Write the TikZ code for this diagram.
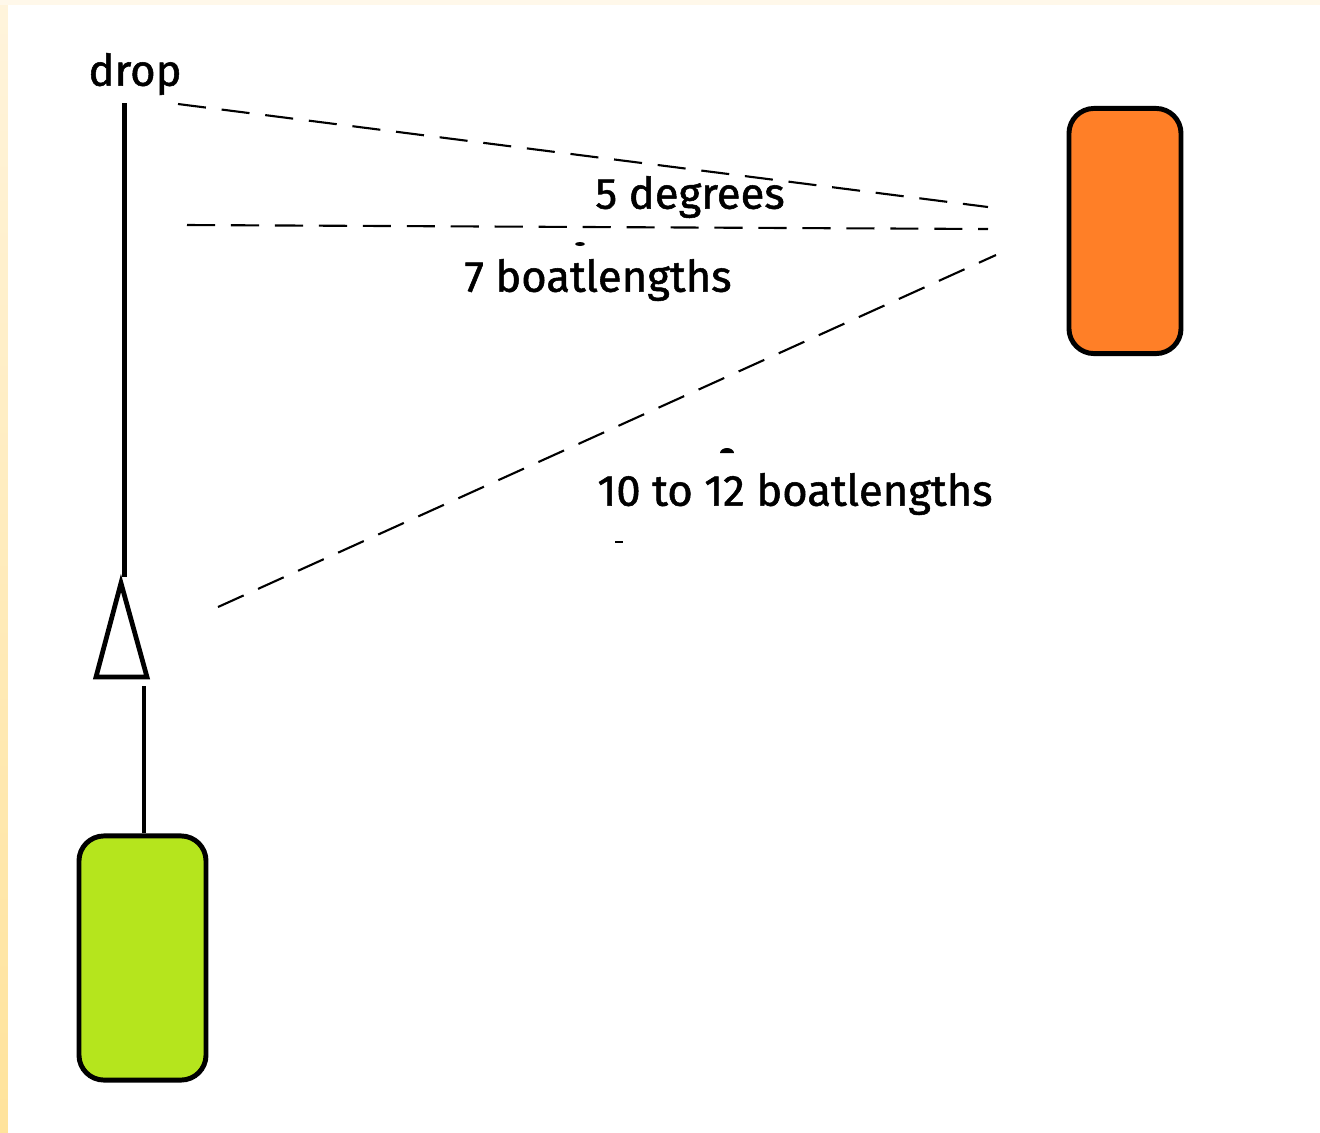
\documentclass[tikz,border=0pt]{standalone}
\usepackage{fontspec}
\setmainfont{Fira Sans}
\newfontfamily\labelfont{Fira Sans}[FakeBold=1.2]
\usepackage{xcolor}
\definecolor{boatorange}{HTML}{FF7F27}
\definecolor{boatlime}{HTML}{B5E51D}
\definecolor{edgecream}{HTML}{FFF4DC}
\definecolor{edgeyellow}{HTML}{FFE39B}

\begin{document}
\begin{tikzpicture}[x=0.01cm, y=-0.01cm, every node/.style={font=\labelfont\fontsize{12.4}{14}\selectfont}]
  \useasboundingbox (0,0) rectangle (1320,1132);
  \fill[white] (0,0) rectangle (1320,1132);
  \shade[top color=edgecream, bottom color=edgeyellow] (0,0) rectangle (8,1132);
  \fill[edgecream!60] (0,0) rectangle (1320,5);
  \tikzset{boat/.style={draw=black, line width=1.4pt, rounded corners=0.25cm, minimum width=1.25cm, inner sep=0pt},
           sight/.style={dash pattern=on 8pt off 4.5pt, line width=0.6pt}}
  \node (drop) at (135, 74) {drop};
  \node[boat, fill=boatorange, minimum width=1.12cm, minimum height=2.45cm] (mark) at (1125, 231) {};
  \node[boat, fill=boatlime, minimum width=1.27cm, minimum height=2.44cm] (me) at (142.5, 958) {};
  \coordinate (line top) at (124.5, 103);
  \coordinate (apex) at (124.5, 577);
  \draw[line width=1.35pt] (line top) -- (apex);
  \draw[line width=1.35pt] (121, 583) -- (96, 677) -- (147, 677) -- cycle;
  \coordinate (flag) at (144, 686);
  \draw[line width=1.35pt] (flag) -- (me.north -| flag);
  \coordinate (A) at (178, 104);
  \coordinate (B) at (988, 207);
  \coordinate (C) at (187, 225);
  \coordinate (D) at (988, 229);
  \coordinate (E) at (218, 607);
  \coordinate (F) at (996, 255);
  \draw[sight] (A) -- (B);
  \draw[sight] (C) -- (D);
  \draw[sight] (E) -- (F);
  \node (deg) at (690, 197) {5 degrees};
  \node (seven) at (598, 280) {7 boatlengths};
  \node (ten) at (795, 494) {10 to 12 boatlengths};
  \fill (580, 244) ellipse (5 and 2);
  \fill (720, 453) arc (180:360:7 and 5) -- cycle;
  \draw[line width=0.5pt] (615, 542) -- (623, 542);
\end{tikzpicture}
\end{document}
